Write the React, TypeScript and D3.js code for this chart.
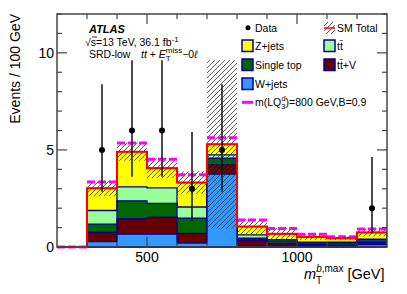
import React from "react";
import * as d3 from "d3";

// bin edges in GeV
const binEdges = [200, 300, 400, 500, 600, 700, 800, 900, 1000, 1100, 1200, 1300];

// background components, bottom to top
const wJets = [0, 0.28, 0.66, 0.66, 0.2, 3.76, 0.05, 0.06, 0.05, 0.04, 0.12];
const ttV = [0, 0.48, 0.8, 0.88, 0.5, 0.47, 0.31, 0.12, 0.08, 0.06, 0.1];
const singleTop = [0, 0.42, 0.92, 0.71, 0.78, 0.34, 0.09, 0.14, 0.08, 0.12, 0.1];
const ttbar = [0, 0.7, 0.72, 0.8, 0.58, 0.17, 0.17, 0.06, 0.04, 0.03, 0.08];
const zJets = [0, 1.14, 1.81, 1.01, 1.26, 0.55, 0.43, 0.3, 0.27, 0.2, 0.35];

// SM uncertainty and signal (stacked on SM)
const smUnc = [0, 0.4, 0.47, 0.5, 0.58, 4.33, 0.4, 0.3, 0.16, 0.1, 0.2];
const lqSignal = [0, 0.33, 0.44, 0.46, 0.4, 0.34, 0.34, 0.27, 0.14, 0.08, 0.18];

// data
const dataX = [350, 450, 550, 650, 750, 1250];
const dataY = [5, 6, 6, 3, 5, 2];
const dataLo = [2.84, 3.62, 3.62, 1.37, 2.84, 0.71];
const dataHi = [8.38, 9.62, 9.62, 5.92, 8.38, 4.64];

const yTicks = [0, 5, 10];
const xTicks = [500, 1000];

const FONT = "'Liberation Sans', Arial, Helvetica, sans-serif";
const NAVY = "#000099";

export default function App() {
  const W = 407;
  const H = 294;
  const x = d3.scaleLinear().domain([200, 1300]).range([57, 387]);
  const y = d3.scaleLinear().domain([0, 12]).range([247, 14]);

  const layers = [wJets, ttV, singleTop, ttbar, zJets];
  const colors = ["#3399ff", "#660000", "#006600", "#99ff99", "#ffff00"];

  // cumulative sums for the stack
  const cum: number[][] = [];
  let run = wJets.map(() => 0);
  layers.forEach((l) => {
    run = run.map((v, i) => v + l[i]);
    cum.push(run);
  });
  const total = cum[cum.length - 1];
  const withSig = total.map((v, i) => v + lqSignal[i]);

  const stepPts = (vals: number[]) =>
    vals
      .map((v, i) => [binEdges[i], v] as [number, number])
      .concat([[binEdges[binEdges.length - 1], vals[vals.length - 1]]]);

  const area = d3
    .area<[number, number]>()
    .x((d) => x(d[0]))
    .y0(y(0))
    .y1((d) => y(d[1]))
    .curve(d3.curveStepAfter);
  const line = d3
    .line<[number, number]>()
    .x((d) => x(d[0]))
    .y((d) => y(d[1]))
    .curve(d3.curveStepAfter);

  const minorY = d3.range(0, 13, 1);
  const minorX = d3.range(300, 1300, 100);

  const x0 = x.range()[0];
  const x1 = x.range()[1];
  const y0 = y.range()[0];
  const y1 = y.range()[1];

  return (
    <svg
      width={W}
      height={H}
      style={{ position: "absolute", left: 0, top: 0, background: "#fff" }}
      fontFamily={FONT}
    >
      <defs>
        <pattern id="hatch" patternUnits="userSpaceOnUse" width={5} height={5}>
          <path
            d="M0,5 L5,0 M-1,1 L1,-1 M4,6 L6,4"
            stroke="#333"
            strokeWidth={0.8}
          />
        </pattern>
        <clipPath id="plot">
          <rect x={x0} y={y1} width={x1 - x0} height={y0 - y1 + 2} />
        </clipPath>
      </defs>

      <g clipPath="url(#plot)">
        {/* stack, top layer first */}
        {cum
          .map((c, k) => (
            <path
              key={k}
              d={area(stepPts(c)) || ""}
              fill={colors[k]}
              stroke={NAVY}
              strokeWidth={1.3}
            />
          ))
          .reverse()}

        {/* SM uncertainty */}
        {total.map((t, i) =>
          t > 0 ? (
            <rect
              key={i}
              x={x(binEdges[i])}
              width={x(binEdges[i + 1]) - x(binEdges[i])}
              y={y(t + smUnc[i])}
              height={y(Math.max(0, t - smUnc[i])) - y(t + smUnc[i])}
              fill="url(#hatch)"
            />
          ) : null
        )}

        {/* signal on top of SM: dashed horizontal segments */}
        {withSig.map((v, i) => (
          <line
            key={"s" + i}
            x1={x(binEdges[i])}
            x2={x(binEdges[i + 1])}
            y1={y(v)}
            y2={y(v)}
            stroke="#ff00ff"
            strokeWidth={3}
            strokeDasharray="8,3"
          />
        ))}
        {/* SM total */}
        <path
          d={line(stepPts(total)) || ""}
          fill="none"
          stroke="#ff0000"
          strokeWidth={2}
        />

        {/* data */}
        {dataX.map((dx, i) => (
          <g key={i}>
            <line
              x1={x(dx)}
              x2={x(dx)}
              y1={y(dataLo[i])}
              y2={y(dataHi[i])}
              stroke="#111"
              strokeWidth={1.5}
            />
            <circle cx={x(dx)} cy={y(dataY[i])} r={3} fill="#000" />
          </g>
        ))}
      </g>

      {/* frame and ticks */}
      <rect
        x={x0}
        y={y1}
        width={x1 - x0}
        height={y0 - y1}
        fill="none"
        stroke="#444"
        strokeWidth={1.5}
      />
      {minorY.map((v) => {
        const len = v % 5 === 0 ? 10 : 5;
        return (
          <g key={"y" + v} stroke="#444" strokeWidth={1.2}>
            <line x1={x0} x2={x0 + len} y1={y(v)} y2={y(v)} />
            <line x1={x1} x2={x1 - len} y1={y(v)} y2={y(v)} />
          </g>
        );
      })}
      {minorX.map((v) => {
        const len = v % 500 === 0 ? 10 : 5;
        return (
          <g key={"x" + v} stroke="#444" strokeWidth={1.2}>
            <line x1={x(v)} x2={x(v)} y1={y0} y2={y0 - len} />
            <line x1={x(v)} x2={x(v)} y1={y1} y2={y1 + len} />
          </g>
        );
      })}
      {yTicks.map((v) => (
        <text
          key={v}
          x={54}
          y={y(v)}
          dy="0.36em"
          textAnchor="end"
          fontSize={14}
          fill="#000"
        >
          {v}
        </text>
      ))}
      {xTicks.map((v) => (
        <text key={v} x={x(v)} y={262} textAnchor="middle" fontSize={14} fill="#000">
          {v}
        </text>
      ))}

      {/* axis titles */}
      <text
        transform="translate(20,14) rotate(-90)"
        textAnchor="end"
        fontSize={14}
        fill="#000"
      >
        Events / 100 GeV
      </text>
      <text x={304} y={279} fontSize={14.5} fill="#000">
        <tspan fontStyle="italic">m</tspan>
        <tspan fontSize={10} dy={5}>T</tspan>
        <tspan fontSize={10} dx={-6} dy={-12} fontStyle="italic">b</tspan>
        <tspan fontSize={10}>,max</tspan>
        <tspan dy={7}> [GeV]</tspan>
      </text>

      {/* labels */}
      <text x={89} y={32.5} fontSize={11} fontWeight="bold" fontStyle="italic">
        ATLAS
      </text>
      <text x={85} y={46} fontSize={10.5}>
        √s=13 TeV, 36.1 fb
        <tspan fontSize={8} dy={-4}>-1</tspan>
      </text>
      <line x1={92} x2={97} y1={37} y2={37} stroke="#000" strokeWidth={0.8} />
      <text x={89} y={57.5} fontSize={10.5}>
        SRD-low
      </text>
      <text x={141} y={57.5} fontSize={10.5}>
        <tspan fontStyle="italic">tt</tspan>
        <tspan> + </tspan>
        <tspan fontStyle="italic">E</tspan>
        <tspan fontSize={8} dy={3}>T</tspan>
        <tspan fontSize={8} dx={-5} dy={-8}>miss</tspan>
        <tspan dy={5}>−0</tspan>
        <tspan fontStyle="italic">ℓ</tspan>
      </text>

      {/* legend */}
      <g fontSize={10.5} fill="#000">
        <circle cx={248} cy={27.7} r={2.5} fill="#000" />
        <text x={255} y={31.5}>Data</text>

        <rect x={324} y={22} width={11} height={12} fill="url(#hatch)" />
        <line x1={324} x2={335} y1={28} y2={28} stroke="#ff0000" strokeWidth={1.5} />
        <text x={337} y={31.5}>SM Total</text>

        <rect x={242} y={40} width={11} height={11.5} fill="#ffff00" stroke={NAVY} strokeWidth={1.5} />
        <text x={255} y={49.5}>Z+jets</text>
        <rect x={324} y={40} width={11} height={11.5} fill="#99ff99" stroke={NAVY} strokeWidth={1.5} />
        <text x={337} y={49.5}>{"tt\u0304"}</text>

        <rect x={242} y={59} width={11} height={11.5} fill="#006600" stroke={NAVY} strokeWidth={1.5} />
        <text x={255} y={68.5}>Single top</text>
        <rect x={324} y={59} width={11} height={11.5} fill="#660000" stroke={NAVY} strokeWidth={1.5} />
        <text x={337} y={68.5}>{"tt\u0304+V"}</text>

        <rect x={242} y={78} width={11} height={11.5} fill="#3399ff" stroke={NAVY} strokeWidth={1.5} />
        <text x={255} y={87.5}>W+jets</text>

        <line x1={242} x2={253} y1={102.3} y2={102.3} stroke="#ff00ff" strokeWidth={3} />
        <text x={255} y={106}>
          <tspan>m(LQ</tspan>
          <tspan fontSize={7.5} dy={3}>3</tspan>
          <tspan fontSize={7.5} dx={-4} dy={-8}>d</tspan>
          <tspan dy={5}>)=800 GeV,B=0.9</tspan>
        </text>
      </g>
    </svg>
  );
}
